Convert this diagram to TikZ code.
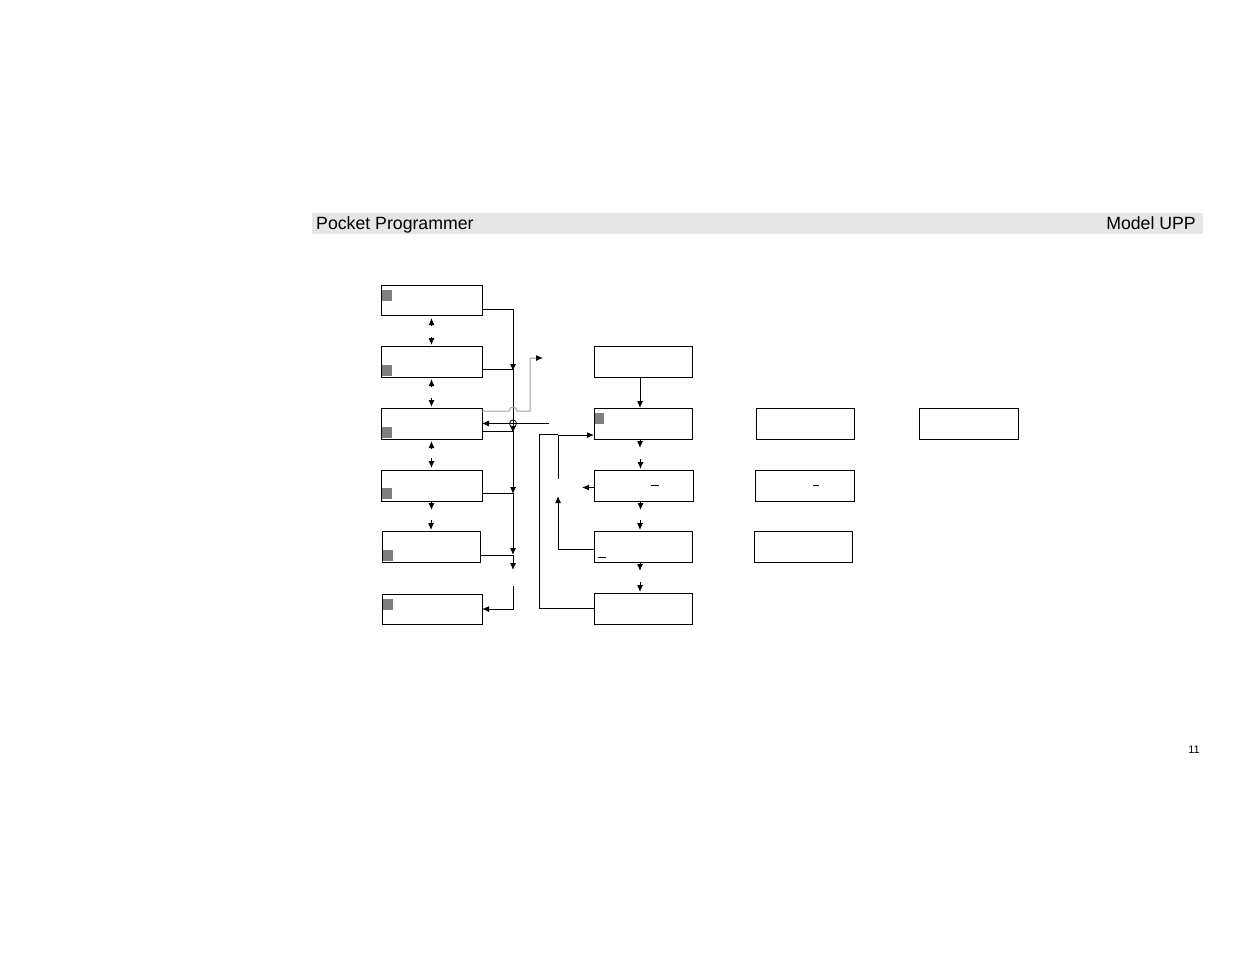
\documentclass[tikz,border=0pt]{standalone}
\usepackage{fontspec}
\setmainfont{Liberation Sans}
\usetikzlibrary{arrows.meta,calc}
\definecolor{headgray}{HTML}{E6E6E6}
\definecolor{curgray}{HTML}{7F7F7F}
\definecolor{wiregray}{HTML}{A0A0A0}
\tikzset{
  lcd/.style={draw,line width=1pt,inner sep=0pt,outer sep=0pt,minimum width=101pt,minimum height=31pt},
  cursor/.style={fill=curgray,inner sep=0pt,outer sep=0pt,minimum width=10pt,minimum height=11pt},
  arr/.style={line width=1pt,-{Latex[length=7pt,width=6pt]}},
  wire/.style={line width=1pt},
}
\begin{document}
\begin{tikzpicture}[x=1pt,y=-1pt]
\useasboundingbox (0,0) rectangle (1235,954);
% header bar
\fill[headgray] (312,213) rectangle (1203,234);
\node[anchor=base west,inner sep=0pt] (title) at (316,229) {\fontsize{17.7}{20}\selectfont Pocket Programmer};
\node[anchor=base east,inner sep=0pt] (model) at (1196,229) {\fontsize{17.7}{20}\selectfont Model UPP};
\node[anchor=base east,inner sep=0pt] (page) at (1200,753) {\fontsize{11}{13}\selectfont 11};
% left column
\node[lcd,minimum height=30pt] (L1) at (431.5,300) {};
\node[lcd] (L2) at (431.5,361.5) {};
\node[lcd] (L3) at (431.5,423.5) {};
\node[lcd] (L4) at (431.5,485.5) {};
\node[lcd,minimum width=98pt] (L5) at (431,546.5) {};
\node[lcd,minimum width=100pt,minimum height=30pt] (L6) at (432,609) {};
\node[cursor,anchor=north west] (c1) at ([xshift=1pt,yshift=-5pt]L1.north west) {};
\node[cursor,anchor=south west] (c2) at ([xshift=1pt,yshift=1pt]L2.south west) {};
\node[cursor,anchor=south west] (c3) at ([xshift=1pt,yshift=1pt]L3.south west) {};
\node[cursor,anchor=south west] (c4) at ([xshift=1pt,yshift=2pt]L4.south west) {};
\node[cursor,anchor=south west] (c5) at ([xshift=1pt,yshift=1pt]L5.south west) {};
\node[cursor,anchor=north west] (c6) at ([xshift=1pt,yshift=-5pt]L6.north west) {};
% middle column
\node[lcd,minimum width=98pt] (M1) at (643,361.5) {};
\node[lcd,minimum width=98pt] (M2) at (643,423.5) {};
\node[lcd,minimum width=99pt] (M3) at (643.5,485.5) {};
\node[lcd,minimum width=98pt] (M4) at (643,546.5) {};
\node[lcd,minimum width=98pt] (M5) at (643,608.5) {};
\node[cursor,anchor=north west,minimum width=9pt] (c7) at ([xshift=1pt,yshift=-5pt]M2.north west) {};
% right column
\node[lcd,minimum width=98pt] (R1) at (805,423.5) {};
\node[lcd,minimum width=99pt] (R2) at (804.5,485.5) {};
\node[lcd,minimum width=98pt] (R3) at (803,546.5) {};
\node[lcd,minimum width=99pt] (R4) at (968.5,423.5) {};
% cursors
\draw[wire] (651,485) -- (659,485);
\draw[wire] (813,485) -- (819,485);
\draw[wire] (598,557) -- (606,557);
% left column up/down keys
\draw[arr] ([yshift=-10pt]L1.south) -- ([yshift=-3pt]L1.south);
\draw[arr] ([yshift=9pt]L2.north) -- ([yshift=1pt]L2.north);
\draw[arr] ([yshift=-9pt]L2.south) -- ([yshift=-2pt]L2.south);
\draw[arr] ([yshift=10pt]L3.north) -- ([yshift=1pt]L3.north);
\draw[arr] ([yshift=-9pt]L3.south) -- ([yshift=-2pt]L3.south);
\draw[arr] ([yshift=12pt]L4.north) -- ([yshift=2pt]L4.north);
\draw[arr] ([yshift=-1pt]L4.south) -- ([yshift=-9pt]L4.south);
\draw[arr] ([yshift=11pt]L5.north) -- ([yshift=1pt]L5.north);
% bus on the right of the left column
\draw[arr] ([yshift=6pt]L1.south east) -| (513,371);
\draw[arr] ([yshift=8pt]L2.south east) -| (513,433);
\draw[arr] ([yshift=8pt]L3.south east) -| (513,494);
\draw[arr] ([yshift=8pt]L4.south east) -| (513,555);
\draw[arr] ([yshift=7pt]L5.south east) -| (513,570);
\draw[arr] (513,586) |- (L6.east);
\draw[wire,line width=0.8pt] (513,423.5) circle (3.5pt);
\draw[arr,line width=0.8pt] (549,423.5) -- (L3.east);
\draw[wire,wiregray,-{Latex[length=7pt,width=6pt,color=black]}] ([yshift=-3pt]L3.north east) -- (509,411)
  arc[start angle=180,end angle=0,radius=4pt] -- (530,411) -- (530,358) -- (543,358);
% middle column
\draw[arr] ([xshift=-3pt]M1.south) -- ([xshift=-3pt]M2.north);
\draw[arr] ([xshift=-3pt,yshift=-1pt]M2.south) -- ([xshift=-3pt,yshift=-9pt]M2.south);
\draw[arr] ([xshift=-3pt,yshift=11pt]M3.north) -- ([xshift=-3pt,yshift=1pt]M3.north);
\draw[arr] ([xshift=-3pt,yshift=-1pt]M3.south) -- ([xshift=-3pt,yshift=-9pt]M3.south);
\draw[arr] ([xshift=-3pt,yshift=11pt]M4.north) -- ([xshift=-3pt,yshift=1pt]M4.north);
\draw[arr] ([xshift=-3pt,yshift=-1pt]M4.south) -- ([xshift=-3pt,yshift=-9pt]M4.south);
\draw[arr] ([xshift=-3pt,yshift=11pt]M5.north) -- ([xshift=-3pt,yshift=1pt]M5.north);
\draw[arr] ([yshift=-2pt]M3.west) -- ++(-12,0);
% loops back to the menu
\draw[arr] ([yshift=-2.5pt]M4.west) -| (558,496);
\draw[arr] (558,479) |- ([yshift=4pt]M2.south west);
\draw[wire] (M5.west) -| (539,434.5) -- (558,434.5);
\end{tikzpicture}
\end{document}
